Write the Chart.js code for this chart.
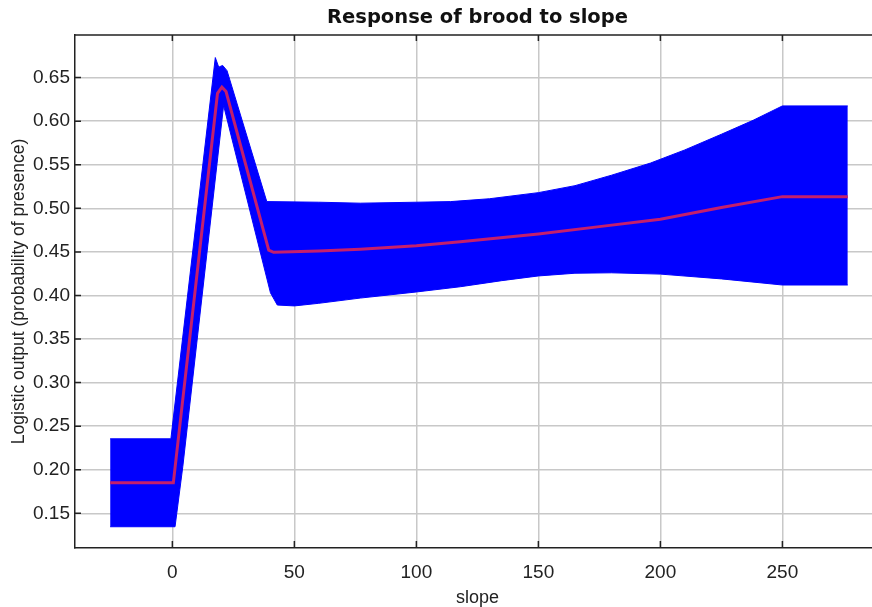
<!DOCTYPE html>
<html lang="en">
<head>
<meta charset="UTF-8" />
<title>Response of brood to slope</title>
<style>
  body {
    margin: 0;
    background: #fff;
    overflow: hidden;
  }
  #responseChart {
    display: block;
  }
</style>
</head>
<body>
  <canvas id="responseChart" width="882" height="607"></canvas>

  <script src="https://cdn.jsdelivr.net/npm/chart.js"></script>
  <script>
    // Mean logistic output along slope
    const meanSlope = [-25.5, 0.4, 18.5, 20.3, 22.0, 39.5, 41.5, 60, 77, 100, 118, 150, 175, 200, 225, 250, 276.8];
    const meanValue = [0.185, 0.185, 0.632, 0.639, 0.634, 0.452, 0.4495, 0.451, 0.453, 0.457, 0.4617, 0.4706, 0.479, 0.4875, 0.501, 0.5134, 0.5134];

    // Upper edge of the +/- one sd band
    const upperSlope = [-25.5, -0.6, 17.6, 19.0, 20.6, 22.4, 38.7, 60, 77, 100, 114, 130, 150, 165, 180, 196, 210, 225, 238, 250, 276.8];
    const upperValue = [0.2355, 0.2355, 0.673, 0.662, 0.664, 0.658, 0.5077, 0.507, 0.5059, 0.507, 0.5077, 0.511, 0.518, 0.526, 0.538, 0.552, 0.567, 0.585, 0.601, 0.6175, 0.6175];

    // Lower edge of the band
    const lowerSlope = [-25.5, 1.1, 4.3, 21, 40.2, 43, 50, 60, 77, 100, 118, 135, 150, 165, 180, 200, 225, 250, 276.8];
    const lowerValue = [0.1346, 0.1346, 0.204, 0.618, 0.403, 0.389, 0.388, 0.391, 0.397, 0.404, 0.410, 0.417, 0.4224, 0.4255, 0.426, 0.4245, 0.419, 0.412, 0.412];

    const xTicks = [0, 50, 100, 150, 200, 250];
    const yTicks = [0.15, 0.20, 0.25, 0.30, 0.35, 0.40, 0.45, 0.50, 0.55, 0.60, 0.65];

    const toPoints = (xs, ys) => xs.map((x, i) => ({ x: x, y: ys[i] }));

    // inward tick marks on left, bottom and top, plus the top frame line
    const frameTicks = {
      id: 'frameTicks',
      afterDraw(chart) {
        const { ctx, chartArea, scales } = chart;
        ctx.save();
        ctx.strokeStyle = '#222';
        ctx.lineWidth = 1.5;
        ctx.beginPath();
        ctx.moveTo(chartArea.left, chartArea.top);
        ctx.lineTo(chartArea.right, chartArea.top);
        xTicks.forEach(v => {
          const px = scales.x.getPixelForValue(v);
          ctx.moveTo(px, chartArea.bottom);
          ctx.lineTo(px, chartArea.bottom - 7);
          ctx.moveTo(px, chartArea.top);
          ctx.lineTo(px, chartArea.top + 6);
        });
        yTicks.forEach(v => {
          const py = scales.y.getPixelForValue(v);
          ctx.moveTo(chartArea.left, py);
          ctx.lineTo(chartArea.left + 6, py);
        });
        ctx.stroke();
        ctx.restore();
      }
    };

    const ctx = document.getElementById('responseChart').getContext('2d');
    new Chart(ctx, {
      type: 'line',
      data: {
        datasets: [
          {
            label: 'upper',
            data: toPoints(upperSlope, upperValue),
            borderColor: '#0000ff',
            borderWidth: 1,
            pointRadius: 0,
            fill: false,
            order: 1
          },
          {
            label: 'lower',
            data: toPoints(lowerSlope, lowerValue),
            borderColor: '#0000ff',
            backgroundColor: '#0000ff',
            borderWidth: 1,
            pointRadius: 0,
            fill: '-1',
            order: 1
          },
          {
            label: 'mean',
            data: toPoints(meanSlope, meanValue),
            borderColor: '#c41f6c',
            borderWidth: 3,
            pointRadius: 0,
            fill: false,
            order: 0
          }
        ]
      },
      options: {
        responsive: false,
        animation: false,
        layout: { padding: { left: 0, right: 2, top: 0, bottom: 0 } },
        plugins: {
          legend: { display: false },
          tooltip: { enabled: false },
          title: {
            display: true,
            fullSize: false,
            text: 'Response of brood to slope',
            color: '#111',
            font: { family: 'DejaVu Sans', size: 19.5, weight: 'bold' },
            padding: { top: 6, bottom: 5.5 }
          }
        },
        scales: {
          x: {
            type: 'linear',
            min: -39.9,
            max: 290,
            afterFit(scale) { scale.height = 59; },
            ticks: {
              stepSize: 50,
              includeBounds: false,
              color: '#222',
              padding: 13,
              maxRotation: 0,
              font: { family: 'Liberation Sans', size: 19 }
            },
            grid: { color: '#c8c8c8', lineWidth: 1.5, drawTicks: false },
            border: { display: true, color: '#222', width: 1.5 },
            title: {
              display: true,
              text: 'slope',
              color: '#222',
              font: { family: 'Liberation Sans', size: 18 },
              padding: { top: 0, bottom: -2 }
            }
          },
          y: {
            type: 'linear',
            min: 0.1102,
            max: 0.699,
            afterFit(scale) { scale.width = 75; },
            ticks: {
              stepSize: 0.05,
              includeBounds: false,
              color: '#222',
              padding: 5,
              font: { family: 'Liberation Sans', size: 19 },
              callback: v => v.toFixed(2)
            },
            grid: { color: '#c8c8c8', lineWidth: 1.5, drawTicks: false },
            border: { display: true, color: '#222', width: 1.5 },
            title: {
              display: true,
              text: 'Logistic output (probability of presence)',
              color: '#222',
              font: { family: 'Liberation Sans', size: 17.5 },
              padding: { top: 9, bottom: 0 }
            }
          }
        }
      },
      plugins: [frameTicks]
    });
  </script>
</body>
</html>
